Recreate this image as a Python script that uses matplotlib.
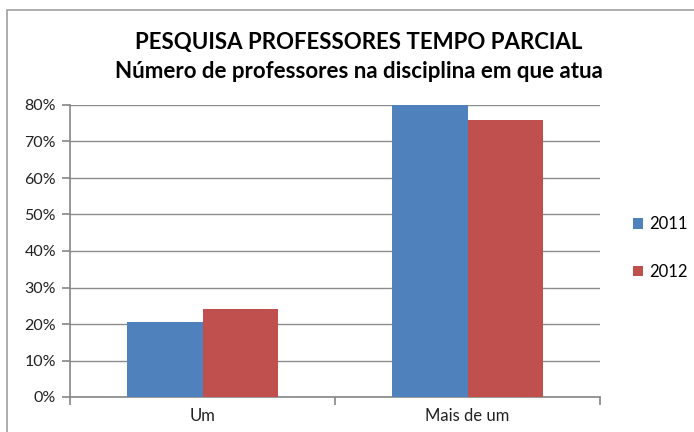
import numpy as np
import matplotlib.pyplot as plt
from matplotlib.patches import Rectangle
from matplotlib.ticker import FuncFormatter

categories = ["Um", "Mais de um"]
series = ["2011", "2012"]
v2011 = [20.5, 80.0]
v2012 = [24.0, 76.0]
colors = ["#4F81BD", "#C0504D"]

plt.rcParams['font.family'] = ['Lato', 'DejaVu Sans']

W, H = 694, 432
fig = plt.figure(figsize=(W / 100, H / 100), dpi=100)

# chart border (Excel chart area, cropped on right/bottom)
fig.patches.append(Rectangle((7 / W, -0.1), 1.2, 1.1 - 10 / H, transform=fig.transFigure,
                             fill=False, edgecolor="#a0a0a0", linewidth=1.2))

ax = fig.add_axes([70 / W, 1 - 397 / H, 530 / W, 292 / H])
x = np.arange(len(categories))
bw = 0.285
ax.bar(x - bw / 2, v2011, bw, color=colors[0], label=series[0], zorder=3)
ax.bar(x + bw / 2, v2012, bw, color=colors[1], label=series[1], zorder=3)

ax.set_xlim(-0.5, 1.5)
ax.set_ylim(0, 80)
ax.set_yticks(np.arange(0, 81, 10))
ax.yaxis.set_major_formatter(FuncFormatter(lambda v, p: f"{v:.0f}%"))
ax.yaxis.grid(True, color="#8c8c8c", linewidth=1, zorder=0)

for s in ["top", "right"]:
    ax.spines[s].set_visible(False)
for s in ["left", "bottom"]:
    ax.spines[s].set_color("#868686")
    ax.spines[s].set_linewidth(1.2)

ax.set_xticks([-0.5, 0.5, 1.5], minor=False)
ax.set_xticklabels([])
ax.set_xticks(x, minor=True)
ax.set_xticklabels(categories, minor=True)
ax.tick_params(axis="x", which="major", length=6, color="#868686", width=1.2)
ax.tick_params(axis="x", which="minor", length=0, pad=8, labelsize=12, labelcolor="#222222")
ax.tick_params(axis="y", length=6, color="#868686", width=1.2, labelsize=11.5, labelcolor="#222222", pad=4)

fig.text(0.5 + 12 / W, 1 - 42 / H, "PESQUISA PROFESSORES TEMPO PARCIAL", ha="center", va="center",
         fontsize=16, fontweight="bold")
fig.text(0.5 + 12 / W, 1 - 72 / H, "Número de professores na disciplina em que atua", ha="center", va="center",
         fontsize=16, fontweight="bold")

fig.legend(loc="center left", bbox_to_anchor=(618 / W, 1 - 248 / H), frameon=False,
           handlelength=0.6, handleheight=0.6, handletextpad=0.4, labelspacing=1.9, fontsize=12)

fig.savefig("out.png", dpi=100)
